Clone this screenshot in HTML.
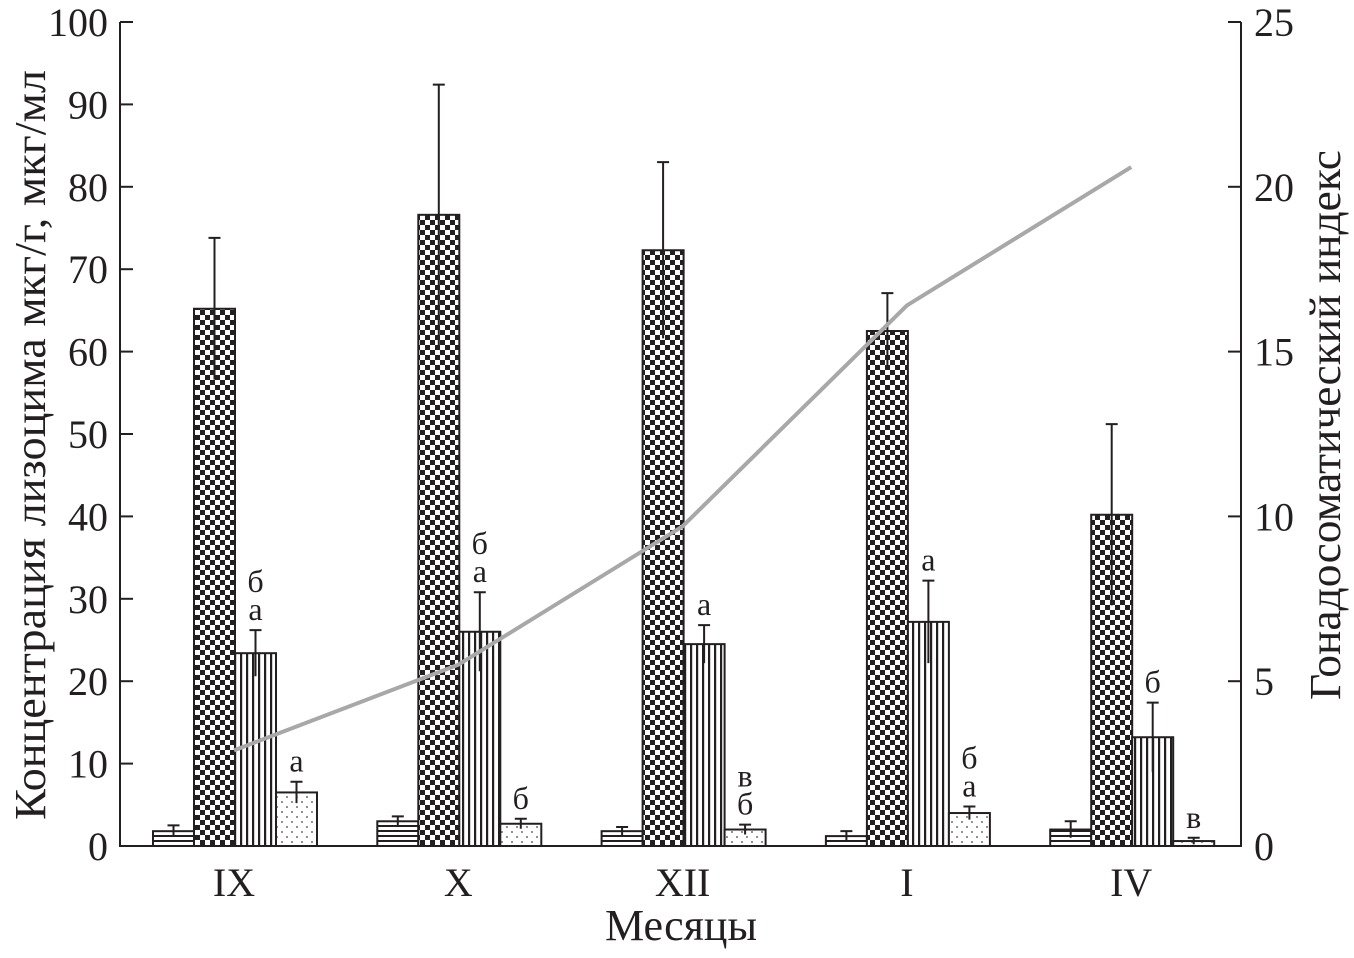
<!DOCTYPE html>
<html><head><meta charset="utf-8"><style>
body{margin:0;background:#fff}
svg text{font-family:"Liberation Serif",serif;fill:#231f20}
</style></head><body>
<svg id="c" width="1354" height="953" xmlns="http://www.w3.org/2000/svg">
<defs>
<pattern id="ph" width="8" height="5" patternUnits="userSpaceOnUse"><rect width="8" height="5" fill="#fff"/><rect y="0" width="8" height="2" fill="#231f20"/></pattern>
<pattern id="pc" width="10" height="10" patternUnits="userSpaceOnUse"><rect width="10" height="10" fill="#fff"/><rect width="5" height="5" fill="#231f20"/><rect x="5" y="5" width="5" height="5" fill="#231f20"/></pattern>
<pattern id="pv" width="6" height="8" patternUnits="userSpaceOnUse"><rect width="6" height="8" fill="#fff"/><rect width="2.2" height="8" fill="#231f20"/></pattern>
<pattern id="pd" width="10" height="10" patternUnits="userSpaceOnUse"><rect width="10" height="10" fill="#fff"/><circle cx="2" cy="2" r="0.9" fill="#444"/><circle cx="7" cy="7" r="0.9" fill="#444"/></pattern>
</defs>
<g id="g"></g>
</svg>
<script>
const months=["IX","X","XII","I","IV"];
const s1=[1.8,3.0,1.8,1.2,2.0], e1=[0.7,0.6,0.5,0.6,1.0];
const s2=[65.2,76.6,72.3,62.5,40.2], e2=[8.6,15.8,10.7,4.6,11.0];
const s3=[23.4,26.0,24.5,27.2,13.2], e3=[2.8,4.8,2.3,5.0,4.2];
const s4=[6.5,2.7,2.0,4.0,0.6], e4=[1.3,0.6,0.6,0.8,0.4];
const gsi=[2.9,5.5,9.7,16.4,20.6];
const lab3=[["б","а"],["б","а"],["а"],["а"],["б"]];
const lab4=[["а"],["б"],["в","б"],["б","а"],["в"]];
const leftTicks=[0,10,20,30,40,50,60,70,80,90,100];
const rightTicks=[0,5,10,15,20,25];
const NS="http://www.w3.org/2000/svg",G=document.getElementById('g');
const X0=120,X1=1241,Y0=846,YT=22;
const yL=v=>Y0-(Y0-YT)*v/100, yR=v=>Y0-(Y0-YT)*v/25;
const cx=i=>234+i*224.3;
function mk(t,a,p){const e=document.createElementNS(NS,t);for(const k in a)e.setAttribute(k,a[k]);(p||G).appendChild(e);return e;}
const series=[[s1,e1,'ph'],[s2,e2,'pc'],[s3,e3,'pv'],[s4,e4,'pd']];
const BW=41;
months.forEach((m,i)=>{
  series.forEach((s,j)=>{
    const x=cx(i)-81+j*BW, v=s[0][i], er=s[1][i];
    const r=mk('rect',{x:x,y:yL(v),width:BW,height:Y0-yL(v),fill:'url(#'+s[2]+')',stroke:'#231f20','stroke-width':2});
    
    
    const xm=x+BW/2;
    const l=mk('path',{d:`M${xm},${yL(v-er)}V${yL(v+er)}M${xm-6},${yL(v+er)}H${xm+6}`,stroke:'#231f20','stroke-width':2,fill:'none'});
    
    
  });
  [[lab3,2,s3,e3],[lab4,3,s4,e4]].forEach(([L,j,s,e])=>{
    const xm=cx(i)-81+j*BW+BW/2;let y=yL(s[i]+e[i])-10;
    for(let k=L[i].length-1;k>=0;k--){const t=mk('text',{x:xm,y:y,'font-size':32,'text-anchor':'middle'});t.textContent=L[i][k];
      
      y-=28;}
  });
  const t=mk('text',{x:cx(i),y:896,'font-size':40,'text-anchor':'middle'});t.textContent=m;
  
  
});
const pl=mk('polyline',{points:gsi.map((v,i)=>cx(i)+','+yR(v)).join(' '),fill:'none',stroke:'#a8a8a8','stroke-width':4});


const ax=mk('path',{d:`M${X0},${YT}V${Y0}H${X1}V${YT}`,stroke:'#231f20','stroke-width':2,fill:'none'});


leftTicks.forEach(v=>{mk('path',{d:`M${X0},${yL(v)}h13`,stroke:'#231f20','stroke-width':2});
  const t=mk('text',{x:108,y:yL(v)+14,'font-size':40,'text-anchor':'end'});t.textContent=v;
  
  });
rightTicks.forEach(v=>{mk('path',{d:`M${X1},${yR(v)}h-13`,stroke:'#231f20','stroke-width':2});
  const t=mk('text',{x:1254,y:yR(v)+14,'font-size':40});t.textContent=v;
  
  });
let t=mk('text',{x:681,y:940,'font-size':44,'text-anchor':'middle'});t.textContent='Месяцы';


t=mk('text',{x:0,y:0,'font-size':44,'text-anchor':'middle',textLength:750,lengthAdjust:'spacingAndGlyphs',transform:'translate(45,445) rotate(-90)'});t.textContent='Концентрация лизоцима мкг/г, мкг/мл';


t=mk('text',{x:0,y:0,'font-size':44,'text-anchor':'middle',textLength:550,lengthAdjust:'spacingAndGlyphs',transform:'translate(1340,425) rotate(-90)'});t.textContent='Гонадосоматический индекс';


</script>
</body></html>
